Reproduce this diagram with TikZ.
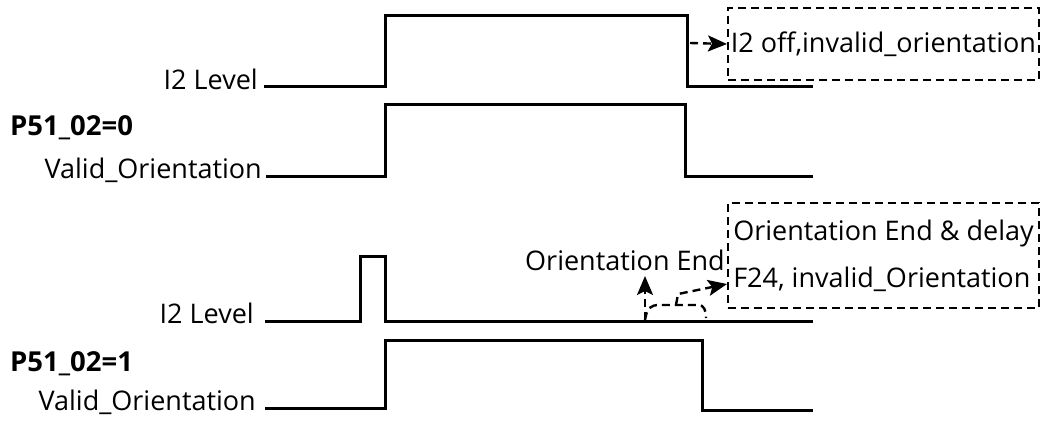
\documentclass[tikz,border=0pt]{standalone}
\usepackage{fontspec}
\setmainfont{Open Sans}
\usetikzlibrary{arrows.meta}
\begin{document}
\begin{tikzpicture}[x=1pt,y=-1pt,
  lbl/.style={font=\fontsize{27}{32}\selectfont, inner sep=0pt},
  head/.style={font=\fontsize{27.5}{32}\selectfont\bfseries, inner sep=0pt, anchor=west},
  wave/.style={line width=3pt, line join=miter},
  dline/.style={line width=2.4pt, dash pattern=on 8pt off 5pt},
  darrow/.style={dline, -{Stealth[length=19pt,width=16pt,inset=4pt]}},
  note/.style={draw, line width=2pt, dash pattern=on 8pt off 5pt,
    font=\fontsize{27}{47}\selectfont, inner sep=0pt, anchor=north west}
]
\useasboundingbox (0,0) rectangle (1041,425);

% ---- P51_02 = 0 ----
\node[head] (h0) at (10,128) {P51\_02=0};
\node[lbl, anchor=mid east] (i2a) at (258,87) {I2 Level};
\node[lbl, anchor=mid east] (voa) at (262,176) {Valid\_Orientation};
\draw[wave] (264,87) -- (385,87) -- (385,16) -- (687,16) -- (687,87) -- (813,87);
\draw[wave] (266,176) -- (385,176) -- (385,105) -- (685,105) -- (685,176) -- (813,176);

\node[note, minimum width=311pt, minimum height=72pt] (b1) at (727,7)
  {I2 off,invalid\_orientation};
\coordinate (f1) at (690,43);
\draw[darrow] (f1) -- (b1.west);

% ---- P51_02 = 1 ----
\node[head] (h1) at (10,364) {P51\_02=1};
\node[lbl, anchor=mid east] (i2b) at (254,321) {I2 Level};
\node[lbl, anchor=mid east] (vob) at (256,408) {Valid\_Orientation};
\draw[wave] (265,321) -- (360,321) -- (360,256) -- (385,256) -- (385,321) -- (813,321);
\draw[wave] (265,408) -- (385,408) -- (385,340) -- (702,340) -- (702,410) -- (813,410);

\node[note, minimum width=311pt, minimum height=105pt, align=left] (b2) at (727,202)
  {Orientation End \& delay\\F24, invalid\_Orientation};

\node[lbl, anchor=base west] (oe) at (525,270) {Orientation End};
\coordinate (t0) at (645,320);
\coordinate (t1) at (706,318);
\coordinate (tm) at (676,305);
\draw[darrow] (t0) -- (645,276);
\draw[dline] (t0) .. controls (647,308) and (650,305) .. (660,305) -- (698,305)
  .. controls (704,305) and (706,310) .. (t1);
\draw[darrow] (tm) -- (678,294) -- (b2.west |- 0,284);
\end{tikzpicture}
\end{document}
